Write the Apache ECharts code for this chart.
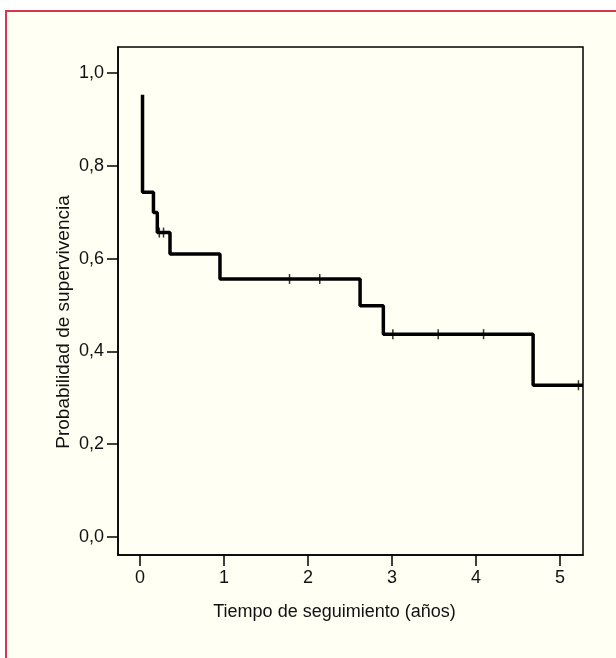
<!DOCTYPE html>
<html><head><meta charset="utf-8">
<script src="https://cdn.jsdelivr.net/npm/echarts@6/dist/echarts.min.js"></script>
<style>html,body{margin:0;padding:0;background:#fff}#c{width:616px;height:658px}</style>
</head><body><div id="c"></div>
<script>
// Kaplan-Meier step points [time (years), survival]
const kmTimes    = [0.03, 0.03, 0.16, 0.206, 0.357, 0.952, 2.62, 2.897, 4.68, 5.274];
const kmSurvival = [0.953, 0.743, 0.699, 0.656, 0.610, 0.556, 0.498, 0.437, 0.327, 0.327];
// censored observations
const censorTimes    = [0.23, 0.28, 1.78, 2.14, 3.01, 3.55, 4.09, 5.22];
const censorSurvival = [0.656, 0.656, 0.556, 0.556, 0.437, 0.437, 0.437, 0.327];
const xTicks = [0, 1, 2, 3, 4, 5];
const yTicks = [0, 0.2, 0.4, 0.6, 0.8, 1.0];
const xTitle = 'Tiempo de seguimiento (años)';
const yTitle = 'Probabilidad de supervivencia';

const FONT = "'Liberation Sans', Arial, sans-serif";
const chart = echarts.init(document.getElementById('c'), null, {renderer: 'canvas'});
chart.setOption({
  backgroundColor: '#ffffff',
  animation: false,
  graphic: [{
    type: 'rect', z: -100, silent: true,
    shape: {x: 6, y: 11, width: 720, height: 720},
    style: {fill: '#fffff3', stroke: '#d8364d', lineWidth: 2}
  }],
  grid: {left: 118, top: 47, right: 33, bottom: 103, show: true,
         borderColor: '#000', borderWidth: 1.5, backgroundColor: 'transparent'},
  xAxis: {
    type: 'value', min: -0.262, max: 5.274,
    name: xTitle, nameLocation: 'middle', nameGap: 48, nameMoveOverlap: false,
    nameTextStyle: {fontFamily: FONT, fontSize: 18, color: '#111', padding: [0, 32, 0, 0]},
    axisLine: {show: true, onZero: false, lineStyle: {color: '#000', width: 1.5}},
    axisTick: {show: true, length: 11, customValues: xTicks, lineStyle: {color: '#000', width: 1.5}},
    axisLabel: {customValues: xTicks, margin: 14, fontFamily: FONT, fontSize: 18, color: '#111',
                formatter: v => String(v)},
    splitLine: {show: false}
  },
  yAxis: {
    type: 'value', min: -0.039, max: 1.056,
    name: yTitle, nameLocation: 'middle', nameGap: 45, nameRotate: 90, nameMoveOverlap: false,
    nameTextStyle: {fontFamily: FONT, fontSize: 19, color: '#111', padding: [0, 42, 0, 0]},
    axisLine: {show: true, onZero: false, lineStyle: {color: '#000', width: 1.5}},
    axisTick: {show: true, length: 11, customValues: yTicks, lineStyle: {color: '#000', width: 1.5}},
    axisLabel: {customValues: yTicks, margin: 14, fontFamily: FONT, fontSize: 18, color: '#111',
                formatter: v => v.toFixed(1).replace('.', ',')},
    splitLine: {show: false}
  },
  series: [{
    type: 'line', step: 'end', symbol: 'none', clip: true,
    data: kmTimes.map((t, i) => [t, kmSurvival[i]]),
    lineStyle: {color: '#000', width: 3.5}
  }, {
    type: 'scatter', symbol: 'rect', symbolSize: [1.5, 10],
    data: censorTimes.map((t, i) => [t, censorSurvival[i]]),
    itemStyle: {color: '#000'}, z: 3
  }]
});
</script></body></html>
